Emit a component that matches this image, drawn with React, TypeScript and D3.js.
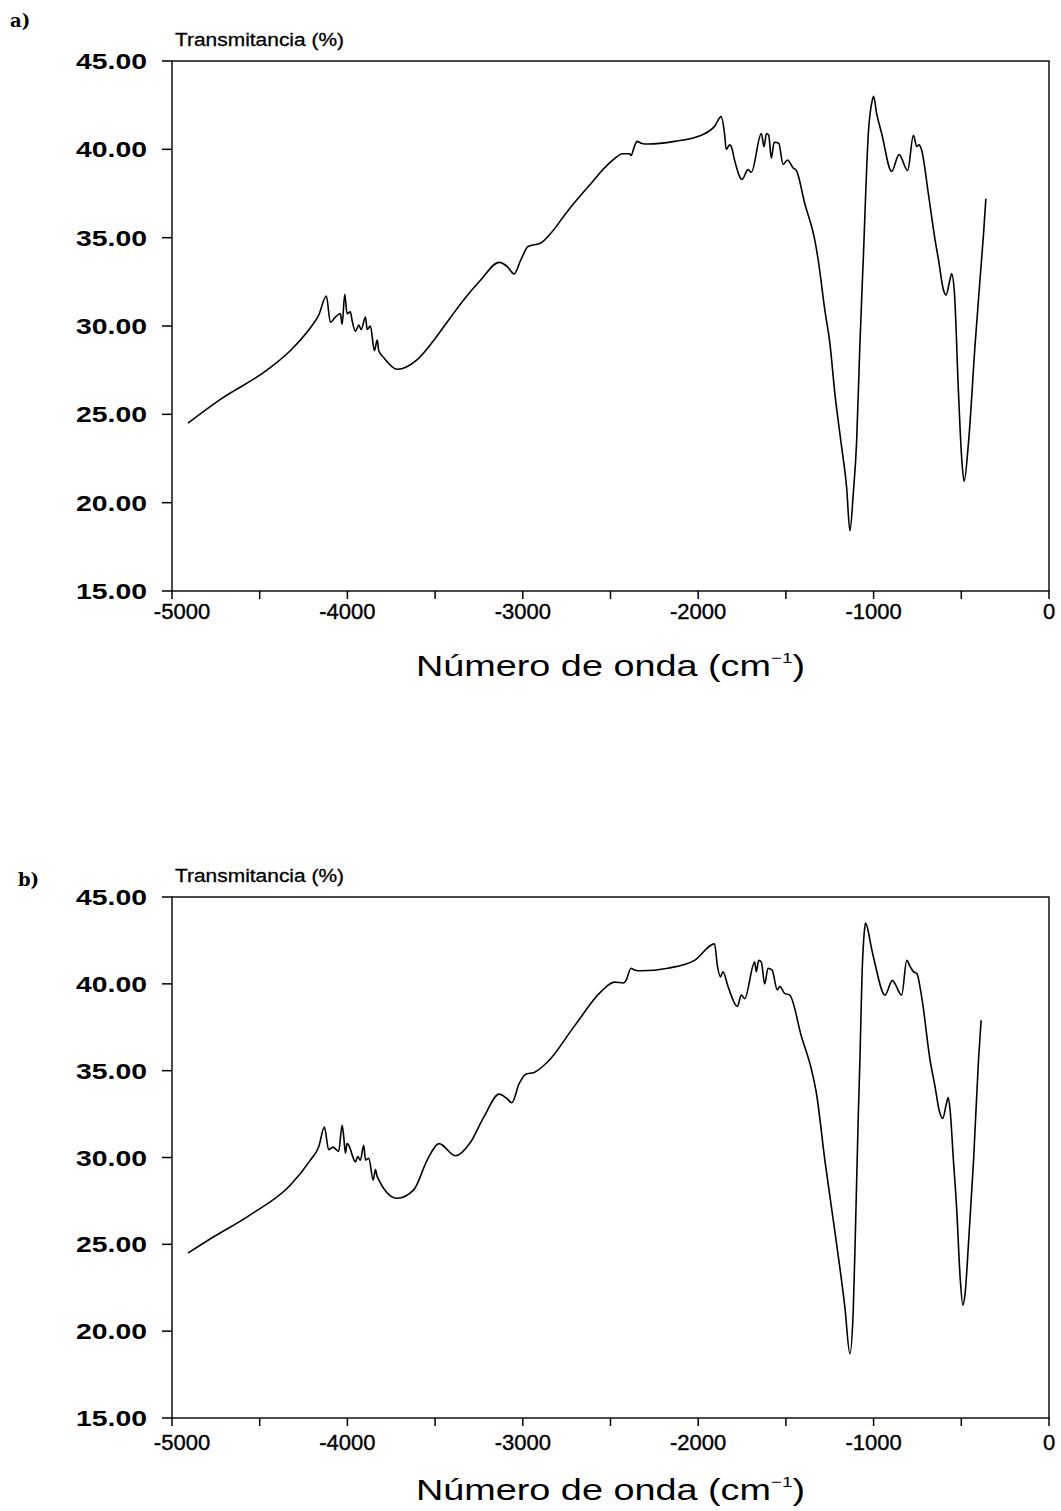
import React from "react";
import * as d3 from "d3";

// ---- data ----
const waveA = [
  -4909, -4716, -4459, -4326, -4211, -4164, -4120, -4097, -4069, -4040, -4030, -4015, -4002, -3983, -3973,
  -3954, -3935, -3922, -3897, -3887, -3869, -3846, -3830, -3821, -3792, -3716, -3602, -3507, -3411, -3335,
  -3240, -3135, -3087, -3050, -3011, -2970, -2897, -2840, -2745, -2630, -2497, -2430, -2392, -2383, -2364,
  -2349, -2326, -2287, -2135, -1983, -1907, -1869, -1850, -1840, -1821, -1811, -1793, -1750, -1716, -1697,
  -1640, -1625, -1611, -1598, -1583, -1567, -1541, -1516, -1491, -1459, -1440, -1393, -1336, -1316, -1278,
  -1249, -1221, -1183, -1154, -1135, -1116, -1097, -1078, -1059, -1030, -1007, -1000, -983, -954, -897,
  -855, -806, -773, -754, -741, -726, -688, -650, -630, -602, -587, -565, -555, -539, -516,
  -497, -484, -459, -421, -392, -373, -360,
];
const transA = [
  24.5, 25.9, 27.5, 28.6, 29.9, 30.6, 31.7, 30.2, 30.5, 30.7, 30.1, 31.8, 30.7, 30.8, 30.3,
  29.7, 30.05, 29.8, 30.5, 29.8, 30.0, 28.6, 29.2, 28.6, 28.2, 27.55, 28.1, 29.2, 30.5, 31.5,
  32.6, 33.6, 33.35, 32.95, 33.75, 34.5, 34.7, 35.25, 36.5, 37.85, 39.3, 39.75, 39.75, 39.65, 40.15,
  40.45, 40.35, 40.3, 40.45, 40.8, 41.3, 41.85, 40.9, 40.0, 40.25, 40.15, 39.4, 38.3, 38.85, 38.7,
  40.9, 40.15, 40.9, 40.8, 39.5, 40.4, 40.35, 39.15, 39.4, 38.95, 38.8, 36.95, 34.9, 33.75, 30.9,
  29.0, 26.2, 23.2, 20.9, 18.4, 20.5, 23.4, 29.0, 33.75, 40.9, 42.8, 43.0, 42.05, 40.9, 38.75,
  39.7, 38.8, 40.8, 40.15, 40.25, 39.95, 37.5, 34.9, 33.75, 32.05, 31.75, 32.6, 32.95, 31.85, 26.2,
  22.4, 21.2, 23.4, 29.0, 32.8, 35.25, 37.2,
];

const waveB = [
  -4909, -4792, -4554, -4326, -4211, -4164, -4131, -4107, -4082, -4050, -4030, -4021, -4011, -4002, -3987,
  -3973, -3954, -3941, -3926, -3907, -3897, -3878, -3853, -3840, -3830, -3716, -3621, -3545, -3478, -3383,
  -3300, -3221, -3135, -3091, -3063, -3021, -2983, -2935, -2859, -2707, -2554, -2478, -2425, -2411, -2383,
  -2364, -2326, -2173, -2021, -1907, -1890, -1873, -1859, -1830, -1777, -1754, -1735, -1678, -1669, -1655,
  -1640, -1621, -1602, -1579, -1549, -1535, -1507, -1478, -1411, -1354, -1326, -1278, -1230, -1193, -1164,
  -1135, -1116, -1103, -1087, -1078, -1066, -1053, -1046, -1030, -1015, -993, -935, -893, -878, -840,
  -811, -792, -773, -754, -726, -678, -650, -627, -606, -585, -575, -564, -545, -526, -507,
  -491, -478, -459, -430, -402, -387,
];
const transB = [
  24.5, 25.25, 26.7, 28.4, 29.85, 30.6, 31.75, 30.45, 30.6, 30.35, 31.85, 31.2, 30.25, 30.8, 30.6,
  30.15, 29.75, 30.05, 29.85, 30.7, 29.85, 29.95, 28.7, 29.3, 28.9, 27.65, 28.15, 29.85, 30.8, 30.1,
  30.85, 32.35, 33.65, 33.4, 33.15, 34.25, 34.8, 34.9, 35.5, 37.55, 39.55, 40.1, 40.05, 40.2, 40.9,
  40.8, 40.75, 40.9, 41.35, 42.3, 41.0, 40.4, 40.7, 39.85, 38.7, 39.35, 39.15, 41.25, 40.7, 41.35,
  41.25, 40.0, 40.9, 40.8, 39.65, 39.85, 39.45, 39.35, 36.95, 35.05, 33.7, 29.85, 26.4, 23.7, 21.4,
  18.7, 21.2, 26.0, 32.5, 35.6, 40.5, 43.0, 43.5, 43.0, 42.2, 41.2, 39.35, 40.2, 40.0, 39.35,
  41.35, 41.0, 40.7, 40.6, 39.25, 35.6, 34.1, 32.75, 32.25, 33.1, 33.45, 32.75, 29.85, 27.0, 23.15,
  21.5, 22.2, 25.05, 29.85, 35.6, 37.9,
];

const yTicks = [15, 20, 25, 30, 35, 40, 45];
const xMajorTicks = [-5000, -4000, -3000, -2000, -1000, 0];
const xMinorTicks = [-4500, -3500, -2500, -1500, -500];
const panelLabels = ["a)", "b)"];
const yTitle = "Transmitancia (%)";
const xTitle = "Número de onda (cm";

const FONT = "'Liberation Sans', Arial, Helvetica, sans-serif";

type PanelProps = {
  waves: number[];
  values: number[];
  top: number;
  bottom: number;
  label: string;
  labelX: number;
  labelY: number;
  tickLabelOffset: number;
  titleOffset: number;
};

function Panel({ waves, values, top, bottom, label, labelX, labelY, tickLabelOffset, titleOffset }: PanelProps) {
  const left = 172;
  const right = 1049;
  const x = d3.scaleLinear().domain([-5000, 0]).range([left, right]);
  const y = d3.scaleLinear().domain([15, 45]).range([bottom, top]);
  const pts = waves.map((w, i) => [w, values[i]] as [number, number]);
  const line = d3
    .line<[number, number]>()
    .x((d) => x(d[0]))
    .y((d) => y(d[1]))
    .curve(d3.curveMonotoneX);
  const cx = (left + right) / 2;

  return (
    <g>
      <text x={labelX} y={labelY} fontFamily="'DejaVu Serif', 'Liberation Serif', serif" fontWeight="bold" fontSize={18}>
        {label}
      </text>
      <text x={left + 3} y={top - 15} fontFamily={FONT} fontSize={18} textLength={169} lengthAdjust="spacingAndGlyphs" stroke="#000" strokeWidth={0.3}>
        {yTitle}
      </text>
      {/* frame */}
      <rect x={left} y={top} width={right - left} height={bottom - top} fill="none" stroke="#000" strokeWidth={1.4} />
      {/* y ticks */}
      {yTicks.map((t) => (
        <g key={"y" + t}>
          <line x1={left - 10} x2={left} y1={y(t)} y2={y(t)} stroke="#000" strokeWidth={1.5} />
          <text
            x={left - 25}
            y={y(t) + 8}
            textAnchor="end"
            fontFamily={FONT}
            fontWeight="bold"
            fontSize={22}
            textLength={71}
            lengthAdjust="spacingAndGlyphs"
          >
            {t.toFixed(2)}
          </text>
        </g>
      ))}
      {/* x ticks */}
      {xMinorTicks.concat(xMajorTicks).map((t) => (
        <line key={"xt" + t} x1={x(t)} x2={x(t)} y1={bottom} y2={bottom + 8} stroke="#000" strokeWidth={1.5} />
      ))}
      {xMajorTicks.map((t) => (
        <text
          key={"xl" + t}
          x={x(t) + (t === -5000 ? 10 : 0)}
          y={bottom + tickLabelOffset}
          textAnchor="middle"
          fontFamily={FONT}
          fontSize={22}
          stroke="#000"
          strokeWidth={0.4}
        >
          {t === 0 ? "0" : "-" + Math.abs(t)}
        </text>
      ))}
      <g transform={`translate(${cx},${bottom + titleOffset}) scale(1.26,1)`}>
        <text x={0} y={0} textAnchor="middle" fontFamily={FONT} fontSize={30}>
          {xTitle}
          <tspan fontSize={15} dy={-13}>
            −1
          </tspan>
          <tspan dy={13}>)</tspan>
        </text>
      </g>
      <path d={line(pts) ?? ""} fill="none" stroke="#000" strokeWidth={1.6} strokeLinejoin="round" />
    </g>
  );
}

export default function App() {
  return (
    <svg width={1061} height={1511} style={{ display: "block", position: "absolute", left: 0, top: 0 }}>
      <rect width={1061} height={1511} fill="#fff" />
      <Panel waves={waveA} values={transA} top={61} bottom={591} label={panelLabels[0]} labelX={10} labelY={27} tickLabelOffset={28} titleOffset={85} />
      <Panel waves={waveB} values={transB} top={897} bottom={1418} label={panelLabels[1]} labelX={18} labelY={886} tickLabelOffset={32} titleOffset={82} />
    </svg>
  );
}
